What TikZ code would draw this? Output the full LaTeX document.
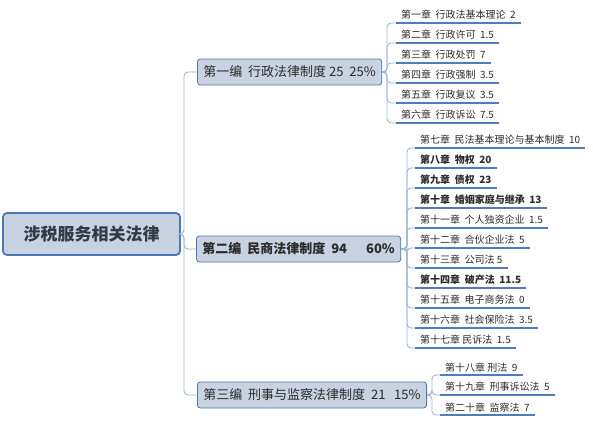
\documentclass[tikz,border=0pt]{standalone}
\usepackage{fontspec}
\setmainfont{Noto Sans CJK SC}
\usepackage{tikz}
\usetikzlibrary{positioning}

\definecolor{boxfill}{HTML}{C8D2E0}
\definecolor{boxline}{HTML}{4A78B5}
\definecolor{linkcol}{HTML}{9DB4D8}
\definecolor{ulcol}{HTML}{4F7BC0}
\definecolor{txt}{HTML}{2B2B2B}

\tikzset{
  rootbox/.style={rectangle,rounded corners=4pt,draw=boxline,line width=1.8pt,fill=boxfill,
    minimum width=177,minimum height=42,font=\fontsize{17}{20}\selectfont\bfseries,text=txt!80!boxline},
  secbox/.style={rectangle,rounded corners=3pt,draw=boxline,line width=0.8pt,fill=boxfill,
    minimum height=26,inner xsep=6pt,anchor=west,font=\fontsize{13}{15}\selectfont,text=txt},
  chap/.style={anchor=south west,inner xsep=5pt,inner ysep=3pt,font=\fontsize{10}{12}\selectfont,text=txt},
  chapb/.style={chap,font=\fontsize{10}{12}\selectfont\bfseries},
  link/.style={draw=linkcol,line width=0.9pt,rounded corners=4pt},
  uline/.style={draw=ulcol,line width=1.5pt}
}

\begin{document}
\begin{tikzpicture}[x=1pt,y=-1pt]
    \useasboundingbox (0,0) rectangle (593,421);

    \node[rootbox] (root) at (91.5,234) {涉税服务相关法律};

    \node[secbox] (sec1) at (197,72) {第一编\ \ 行政法律制度 25\ \ 25\%};
    \node[secbox,font=\fontsize{13}{15}\selectfont\bfseries] (sec2) at (196,249) {第二编\ \ 民商法律制度\ \ 94\quad\ \ 60\%};
    \node[secbox] (sec3) at (197,395) {第三编\ \ 刑事与监察法律制度\ \ 21\ \ \ 15\%};

    \coordinate (t0) at (184,0);
    \coordinate (t1) at (387,0);
    \coordinate (t2) at (407,0);
    \coordinate (t3) at (432,0);

    % 第一编
    \node[chap] (c1) at (396,23) {第一章\ \ 行政法基本理论\ \ 2};
    \node[chap] (c2) at (396,43) {第二章\ \ 行政许可\ \ 1.5};
    \node[chap] (c3) at (396,63) {第三章\ \ 行政处罚\ \ 7};
    \node[chap] (c4) at (396,83) {第四章\ \ 行政强制\ \ 3.5};
    \node[chap] (c5) at (396,103) {第五章\ \ 行政复议\ \ 3.5};
    \node[chap] (c6) at (396,123) {第六章\ \ 行政诉讼\ \ 7.5};

    % 第二编
    \node[chap] (c7) at (415,148) {第七章\ \ 民法基本理论与基本制度\ \ 10};
    \node[chapb] (c8) at (415,168) {第八章\ \ 物权\ \ 20};
    \node[chapb] (c9) at (415,188) {第九章\ \ 债权\ \ 23};
    \node[chapb] (c10) at (415,208) {第十章\ \ 婚姻家庭与继承\ \ 13};
    \node[chap] (c11) at (415,228) {第十一章\ \ 个人独资企业\ \ 1.5};
    \node[chap] (c12) at (415,248) {第十二章\ \ 合伙企业法\ \ 5};
    \node[chap] (c13) at (415,268) {第十三章\ \ 公司法 5};
    \node[chapb] (c14) at (415,288) {第十四章\ \ 破产法\ \ 11.5};
    \node[chap] (c15) at (415,308) {第十五章\ \ 电子商务法\ \ 0};
    \node[chap] (c16) at (415,328) {第十六章\ \ 社会保险法\ \ 3.5};
    \node[chap] (c17) at (415,348) {第十七章 民诉法\ \ 1.5};

    % 第三编
    \node[chap] (c18) at (440,375) {第十八章 刑法\ \ 9};
    \node[chap] (c19) at (440,395) {第十九章\ \ 刑事诉讼法\ \ 5};
    \node[chap] (c20) at (440,415) {第二十章\ \ 监察法\ \ 7};

    % connectors
    \draw[link] (root.east) -- (root.east -| t0) |- (sec1.west);
    \draw[link] (root.east) -- (root.east -| t0) |- (sec2.west);
    \draw[link] (root.east) -- (root.east -| t0) |- (sec3.west);
    \foreach \i in {1,...,6}
        \draw[link] (sec1.east) -- (sec1.east -| t1) |- (c\i.south west);
    \foreach \i in {7,...,17}
        \draw[link] (sec2.east) -- (sec2.east -| t2) |- (c\i.south west);
    \foreach \i in {18,19,20}
        \draw[link] (sec3.east) -- (sec3.east -| t3) |- (c\i.south west);
    \foreach \i in {1,...,20}
        \draw[uline] (c\i.south west) -- (c\i.south east);
\end{tikzpicture}
\end{document}
